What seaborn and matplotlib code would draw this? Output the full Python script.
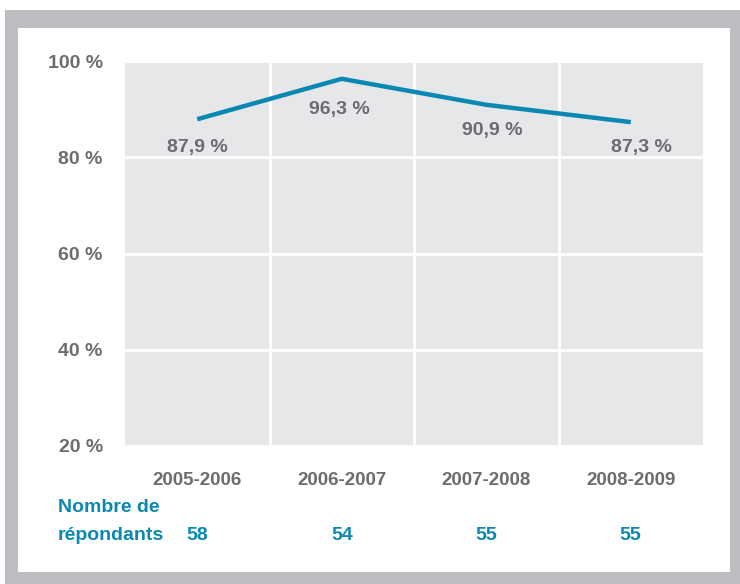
import matplotlib
matplotlib.use('Agg')
import matplotlib.pyplot as plt
import matplotlib.transforms as mtransforms
from matplotlib.patches import Rectangle
import seaborn as sns
import pandas as pd

# data
years = ['2005-2006', '2006-2007', '2007-2008', '2008-2009']
rates = [87.9, 96.3, 90.9, 87.3]
rate_labels = ['87,9 %', '96,3 %', '90,9 %', '87,3 %']
respondents = [58, 54, 55, 55]
y_ticks = [20, 40, 60, 80, 100]
y_tick_labels = ['20 %', '40 %', '60 %', '80 %', '100 %']

gray_text = '#6b6c6f'
blue = '#0a88b2'

sns.set_style('white', {'axes.facecolor': '#e6e7e9'})
plt.rcParams['font.family'] = ['Liberation Sans', 'DejaVu Sans']
plt.rcParams['font.weight'] = 'bold'

df = pd.DataFrame({'pos': range(len(years)), 'rate': rates})

fig = plt.figure(figsize=(7.4, 5.84), dpi=100)
fig.patches.append(Rectangle((5/740, 0), 735/740, 574/584, transform=fig.transFigure,
                             facecolor='#bcbdc0', edgecolor='none', zorder=-10))
fig.patches.append(Rectangle((18/740, 12/584), 712/740, 544/584, transform=fig.transFigure,
                             facecolor='white', edgecolor='none', zorder=-9))

ax = fig.add_axes([125/740, 1 - 446/584, 578/740, 385/584])
sns.lineplot(data=df, x='pos', y='rate', ax=ax, color=blue, linewidth=3.2,
             solid_capstyle='butt')

ax.set_xlim(-0.5, 3.5)
ax.set_ylim(20, 100)
ax.set_yticks(y_ticks)
ax.set_yticklabels(y_tick_labels)
ax.set_xticks(range(len(years)))
ax.set_xticklabels(years)
ax.set_xticks([0.5, 1.5, 2.5], minor=True)
ax.grid(False)
ax.grid(True, which='minor', axis='x', color='white', linewidth=2)
ax.grid(True, which='major', axis='y', color='white', linewidth=2)
ax.set_axisbelow(True)
ax.tick_params(axis='both', which='both', length=0)
ax.tick_params(axis='y', pad=16, labelsize=14, labelcolor=gray_text)
ax.tick_params(axis='x', pad=19, labelsize=13.5, labelcolor=gray_text)
ax.set_xlabel('')
ax.set_ylabel('')
for s in ax.spines.values():
    s.set_visible(False)

# value labels sit just under the line
offsets = [(0, -28), (-2, -31), (6, -26), (11, -25)]
for i, (v, lab) in enumerate(zip(rates, rate_labels)):
    ax.annotate(lab, (i, v), xytext=offsets[i], textcoords='offset pixels',
                ha='center', va='center', fontsize=14, fontweight='bold', color=gray_text)

# respondents row
trans = mtransforms.blended_transform_factory(ax.transData, fig.transFigure)
fig.text(58/740, 1 - 507/584, 'Nombre de', ha='left', va='center',
         fontsize=14, fontweight='bold', color=blue)
fig.text(58/740, 1 - 535/584, 'répondants', ha='left', va='center',
         fontsize=14, fontweight='bold', color=blue)
for i, n in enumerate(respondents):
    ax.text(i, 1 - 535/584, str(n), transform=trans, ha='center', va='center',
            fontsize=14, fontweight='bold', color=blue)

fig.savefig('out.png', dpi=100)
